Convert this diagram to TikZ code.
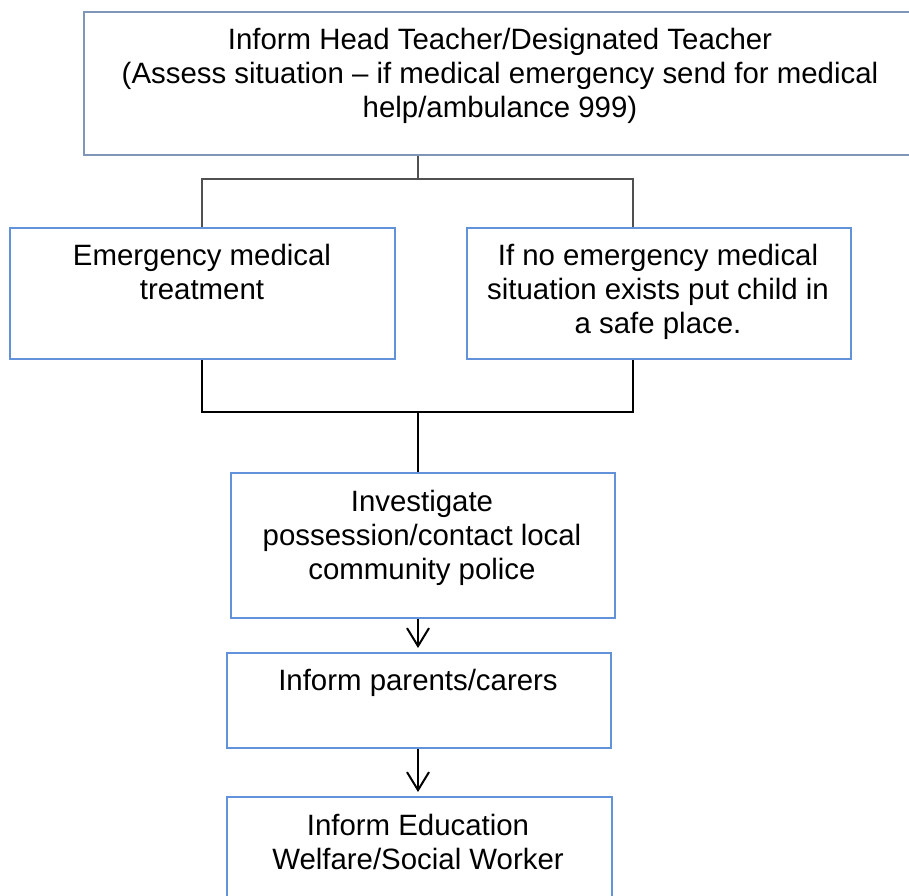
\documentclass[tikz,border=0pt]{standalone}
\usepackage{fontspec}
\setmainfont{Liberation Sans}
\usetikzlibrary{arrows.meta}
\definecolor{topblue}{RGB}{128,150,182}
\definecolor{boxblue}{RGB}{98,147,218}
\definecolor{linegray}{RGB}{80,80,80}
\tikzset{
  topbox/.style={draw=topblue, line width=2pt, inner sep=0pt, anchor=north west},
  bluebox/.style={draw=boxblue, line width=2pt, inner sep=0pt, anchor=north west},
  txt/.style={font=\fontsize{29.4}{34}\selectfont, align=center, inner sep=0pt, anchor=north},
  thinline/.style={draw=linegray, line width=1.3pt},
  blackline/.style={draw=black, line width=1.5pt},
  thickline/.style={draw=black, line width=2.4pt},
  arrowline/.style={draw=black, line width=2pt, -{Straight Barb[length=18pt,width=22pt]}, shorten >=4pt}
}
\begin{document}
\begin{tikzpicture}[x=1pt,y=-1pt]
\useasboundingbox (0,0) rectangle (909,895);
% boxes
\node[topbox, minimum width=834pt, minimum height=143pt] (top) at (83,11) {};
\node[bluebox, minimum width=385pt, minimum height=131pt] (a) at (9,227) {};
\node[bluebox, minimum width=384pt, minimum height=131pt] (b) at (466,227) {};
\node[bluebox, minimum width=384pt, minimum height=145pt] (c) at (230,472) {};
\node[bluebox, minimum width=384pt, minimum height=95pt] (d) at (226,652) {};
\node[bluebox, minimum width=385pt, minimum height=130pt] (e) at (226,796) {};
% texts
\node[txt] (toptxt) at (500,25) {\strut Inform Head Teacher/Designated Teacher\\(Assess situation – if medical emergency send for medical\\help/ambulance 999)};
\node[txt] (atxt) at (202,241) {\strut Emergency medical\\treatment};
\node[txt] (btxt) at (658,241) {\strut If no emergency medical\\situation exists put child in\\a safe place.};
\node[txt] (ctxt) at (422,487) {\strut Investigate\\possession/contact local\\community police};
\node[txt] (dtxt) at (418,666) {\strut Inform parents/carers};
\node[txt] (etxt) at (418,811) {\strut Inform Education\\Welfare/Social Worker};
% junctions
\coordinate (j1) at (418,179);
\coordinate (j1l) at (202,179);
\coordinate (j1r) at (633,179);
\coordinate (j2) at (418,412);
\coordinate (j2l) at (202,412);
\coordinate (j2r) at (633,412);
% connectors
\draw[thinline] (j1 |- top.south) -- (j1);
\draw[thinline] (j1l |- a.north) -- (j1l) -- (j1r) -- (j1r |- b.north);
\draw[blackline] (j2l |- a.south) -- (j2l) -- (j2r) -- (j2r |- b.south);
\draw[thickline] (j2) -- (j2 |- c.north);
\draw[arrowline] (j2 |- c.south) -- (j2 |- d.north);
\draw[arrowline] (j2 |- d.south) -- (j2 |- e.north);
\end{tikzpicture}
\end{document}
